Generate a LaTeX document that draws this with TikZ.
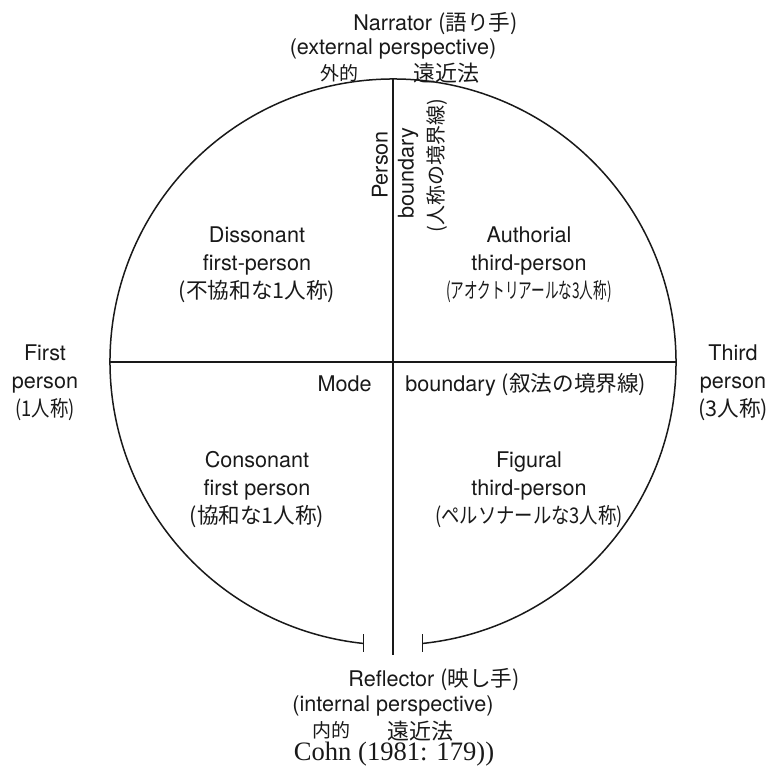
\documentclass[tikz,border=0pt]{standalone}
\usepackage{fontspec}
\setmainfont{TeX Gyre Heros}
\newfontfamily\jp{Noto Sans CJK JP}
\newfontfamily\jpnarrow[FakeStretch=0.63]{Noto Sans CJK JP}
\newfontfamily\jpslim[FakeStretch=0.85]{Noto Sans CJK JP}
\newfontfamily\refserif{Liberation Serif}
\usetikzlibrary{calc,positioning}
\definecolor{ink}{RGB}{25,25,25}
\tikzset{
  rule/.style={draw=ink,line width=0.75pt},
  lbl/.style={font=\fontsize{10.8}{14}\selectfont,text=ink,inner sep=0pt,align=center},
  jpn/.style={font=\fontsize{10.5}{12}\jp,text=ink,inner sep=0pt},
}
\newcommand{\hw}[1]{{\jp #1}}

\begin{document}
\begin{tikzpicture}[x=0.5pt,y=0.5pt]
  \useasboundingbox (-393,-403) rectangle (377,362);
  % circle, open at the bottom
  \coordinate (O) at (0,0);
  \coordinate (top) at (90:283);
  \coordinate (bot) at (0,-293);
  \coordinate (west) at (180:283);
  \coordinate (east) at (0:283);
  \coordinate (gapL) at (264:283);
  \coordinate (gapR) at (-84:283);
  \draw[rule] (gapR) arc[start angle=-84,end angle=264,radius=283];
  \draw[rule] ($(gapL)+(0,9)$) -- ($(gapL)+(0,-9)$);
  \draw[rule] ($(gapR)+(0,9)$) -- ($(gapR)+(0,-9)$);
  \draw[rule] (top) -- (bot);
  \draw[rule] (west) -- (east);

  % poles
  \node[lbl,anchor=base west] (nar) at (-40,331) {Narrator \hw{(語り手)}};
  \node[lbl,anchor=base] (ext) at (0,307) {(external perspective)};
  \node[jpn,font=\fontsize{9.5}{12}\jp] (extA) at (-54,289) {外的};
  \node[jpn,font=\fontsize{11}{14}\jp] (extB) at (53,289) {遠近法};
  \node[lbl,anchor=base west] (ref) at (-45,-324) {Reflector \hw{(映し手)}};
  \node[lbl,anchor=base] (int) at (0,-349) {(internal perspective)};
  \node[jpn,font=\fontsize{9.5}{12}\jp] (intA) at (-62,-368) {内的};
  \node[jpn,font=\fontsize{11}{14}\jp] (intB) at (27,-369) {遠近法};
  \node[font=\fontsize{13.3}{16}\refserif,text=ink,inner sep=0pt] (cohn) at (1,-392)
    {Cohn (1981: 179))};

  % boundaries
  \node[lbl,rotate=90] (pers) at (-13,197) {Person};
  \node[lbl,rotate=90] (pbnd) at (15,189) {boundary};
  \node[jpn,font=\fontsize{10}{12}\jp,rotate=90] (pbndJ) at (44,196) {(人称の境界線)};
  \node[lbl,anchor=base east] (mode) at (-21,-29) {Mode};
  \node[lbl,anchor=base west] (mbnd) at (12,-29) {boundary \hw{(叙法の境界線)}};

  % sides
  \node[lbl] (first) at (-348,-21) {First\\person\\{\jpslim(1人称)}};
  \node[lbl] (third) at (340,-21) {Third\\person\\{\jp(3人称)}};

  % quadrants
  \node[lbl] (dis) at (-136,97) {Dissonant\\first-person\\{\jp(不協和な1人称)}};
  \node[lbl] (aut) at (136,97) {Authorial\\third-person\\{\jpnarrow(アオクトリアールな3人称)}};
  \node[lbl] (con) at (-136,-128) {Consonant\\first person\\{\jp(協和な1人称)}};
  \node[lbl] (fig) at (136,-128) {Figural\\third-person\\{\jpslim(ペルソナールな3人称)}};
\end{tikzpicture}
\end{document}
